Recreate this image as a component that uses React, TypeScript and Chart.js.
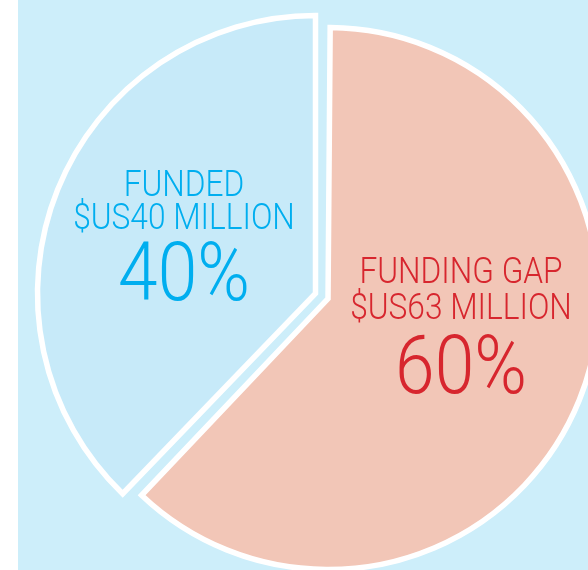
import React, { useEffect, useRef } from "react";
import { Chart, registerables } from "chart.js";

Chart.register(...registerables);

// ---- data ----
const categories = ["FUNDING GAP", "FUNDED"];
const amountLabels = ["$US63 MILLION", "$US40 MILLION"];
const percentLabels = ["60%", "40%"];
// slice shares as drawn in the picture (arc boundary at ~224° from top)
const sliceShares = [62.2, 37.8];

// ---- styles ----
const sliceColors = ["#f2c6b7", "#c7eaf9"];
const textColors = ["#d7262e", "#00aeef"];
const sliceOffsets = [54, 0];
const sliceRadii = [271, 278];
const labelCenterX = [461, 184];
const labelBaselines = [
  [283, 318.5, 392.5],
  [196, 229, 299.5],
];
const lineSizes = [36, 36, 81];
const condense = 0.88;
const FONT = 'Roboto, "Liberation Sans", sans-serif';

const radiusPlugin = {
  id: "sliceRadius",
  afterDatasetsUpdate(chart: any) {
    const meta = chart.getDatasetMeta(0);
    meta.data.forEach((arc: any, i: number) => {
      arc.outerRadius = sliceRadii[i] - sliceOffsets[i] / 4;
    });
  },
};

const labelPlugin = {
  id: "sliceLabels",
  afterDraw(chart: any) {
    const ctx = chart.ctx;
    categories.forEach((cat, i) => {
      const lines = [cat, amountLabels[i], percentLabels[i]];
      lines.forEach((t, j) => {
        ctx.save();
        ctx.fillStyle = textColors[i];
        ctx.textAlign = "center";
        ctx.textBaseline = "alphabetic";
        ctx.font = `300 ${lineSizes[j]}px ${FONT}`;
        ctx.translate(labelCenterX[i], labelBaselines[i][j]);
        ctx.scale(condense, 1);
        ctx.fillText(t, 0, 0);
        ctx.restore();
      });
    });
  },
};

export default function App() {
  const ref = useRef<HTMLCanvasElement | null>(null);
  useEffect(() => {
    if (!ref.current) return;
    const chart = new Chart(ref.current, {
      type: "pie",
      data: {
        labels: categories,
        datasets: [
          {
            data: sliceShares,
            backgroundColor: sliceColors,
            borderColor: "#ffffff",
            borderWidth: 5.5,
            borderJoinStyle: "miter",
            offset: sliceOffsets,
            hoverOffset: 0,
          } as any,
        ],
      },
      options: {
        responsive: false,
        animation: false,
        radius: 278,
        events: [],
        layout: { padding: { left: 43, top: 17, right: 0, bottom: 0 } },
        plugins: { legend: { display: false }, tooltip: { enabled: false } },
      } as any,
      plugins: [radiusPlugin, labelPlugin],
    });
    return () => chart.destroy();
  }, []);

  return (
    <div style={{ position: "fixed", left: 0, top: 0, width: 588, height: 570, background: "#ffffff", overflow: "hidden" }}>
      <div style={{ position: "absolute", left: 18, top: 0, width: 570, height: 570, background: "#cdeefa" }} />
      <canvas ref={ref} width={588} height={570} style={{ position: "absolute", left: 0, top: 0 }} />
    </div>
  );
}
